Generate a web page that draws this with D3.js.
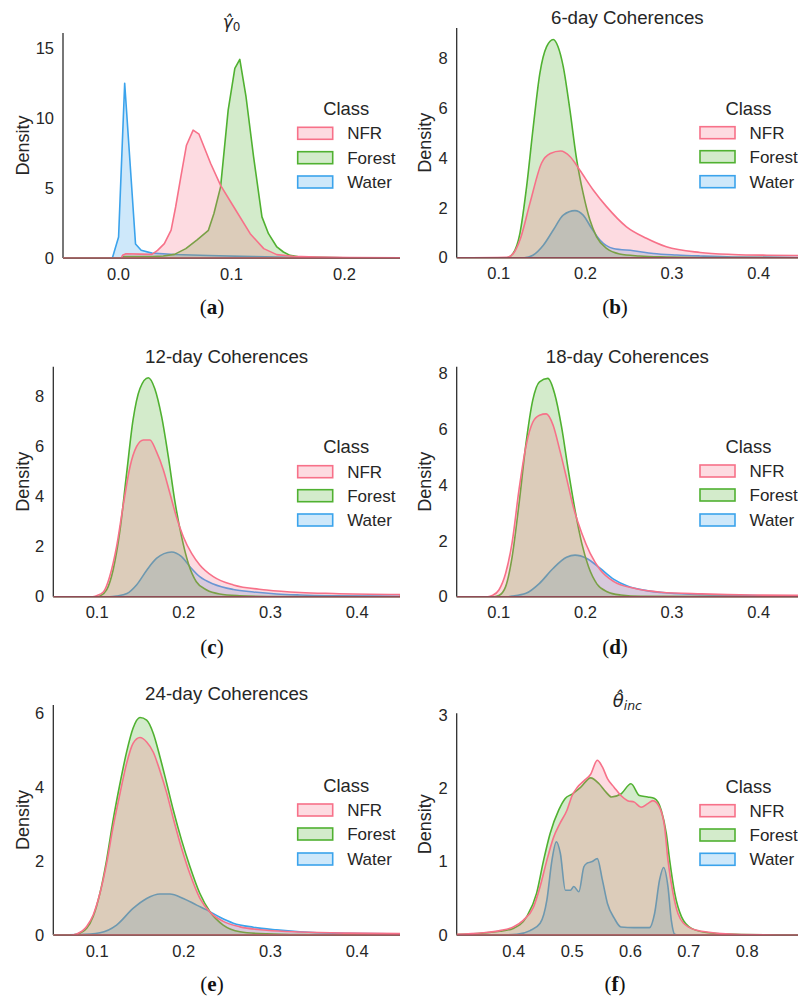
<!DOCTYPE html>
<html>
<head>
<meta charset="utf-8">
<script src="https://cdnjs.cloudflare.com/ajax/libs/d3/7.8.5/d3.min.js"></script>
<style>
  body { margin: 0; background: #fff; }
  svg { display: block; }
  .tick text { font-family: "Liberation Sans", Arial, sans-serif; font-size: 16.5px; fill: #262626; }
</style>
</head>
<body>
<div id="chart"></div>
<script>
// classes and colours (seaborn husl)
const classes = ["NFR", "Forest", "Water"];
const colors = ["#f77189", "#50b131", "#3ba3ec"];

// (a) gamma_0 densities, [x, density]
const gammaNfr = [[-0.049,0],[0.003,0],[0.004,0.2],[0.007,0.3],[0.02,0.28],[0.03,0.26],[0.035,0.55],[0.041,1.03],[0.047,2.0],[0.051,3.65],[0.0556,5.8],[0.0606,8.07],[0.0665,9.15],[0.0717,8.86],[0.082,6.76],[0.0908,5.2],[0.1025,3.65],[0.117,1.74],[0.129,0.67],[0.1405,0.24],[0.155,0.12],[0.176,0.07],[0.205,0.04],[0.25,0.02]];
const gammaForest = [[-0.049,0],[0.003,0],[0.005,0.1],[0.03,0.1],[0.04,0.14],[0.05,0.26],[0.06,0.67],[0.07,1.3],[0.08,1.98],[0.0849,3.18],[0.0908,5.09],[0.0975,10.58],[0.1034,13.57],[0.1078,14.21],[0.1133,11.54],[0.12,7.24],[0.1274,2.94],[0.1332,1.74],[0.1406,0.79],[0.1464,0.43],[0.1523,0.19],[0.161,0.07],[0.2,0.01],[0.25,0]];
const gammaWater = [[-0.049,0],[-0.005,0],[0.0005,1.5],[0.0059,12.5],[0.0155,1.0],[0.0205,0.55],[0.03,0.35],[0.05,0.25],[0.08,0.18],[0.12,0.1],[0.16,0.04],[0.2,0.01],[0.25,0]];

// (b) 6-day coherences
const coh6Nfr = [[0.05,0],[0.11,0.02],[0.118,0.2],[0.125,0.71],[0.1365,2.18],[0.15,3.8],[0.16,4.18],[0.172,4.28],[0.183,4.05],[0.194,3.52],[0.2096,2.72],[0.225,2.05],[0.248,1.24],[0.271,0.78],[0.294,0.44],[0.333,0.21],[0.371,0.13],[0.41,0.1],[0.45,0.09]];
const coh6Forest = [[0.05,0],[0.11,0],[0.117,0.17],[0.125,0.98],[0.1327,2.85],[0.1404,5.26],[0.148,7.4],[0.1558,8.47],[0.1635,8.76],[0.169,8.47],[0.175,7.67],[0.1827,5.93],[0.19,4.05],[0.198,2.58],[0.2058,1.51],[0.2135,0.84],[0.225,0.37],[0.24,0.15],[0.263,0.07],[0.294,0.03],[0.33,0.01],[0.45,0]];
const coh6Water = [[0.05,0],[0.13,0],[0.14,0.1],[0.152,0.5],[0.1635,1.11],[0.175,1.71],[0.1885,1.89],[0.198,1.71],[0.2077,1.18],[0.2173,0.71],[0.2327,0.37],[0.256,0.28],[0.279,0.17],[0.306,0.11],[0.333,0.07],[0.37,0.03],[0.45,0.01]];

// (c) 12-day coherences
const coh12Nfr = [[0.05,0],[0.095,0],[0.1,0.04],[0.108,0.2],[0.115,0.8],[0.123,2.0],[0.131,3.73],[0.1385,5.2],[0.146,6.0],[0.154,6.27],[0.1615,6.27],[0.169,5.8],[0.177,5.07],[0.1846,4.13],[0.192,3.2],[0.2,2.4],[0.2096,1.73],[0.219,1.27],[0.2346,0.8],[0.2577,0.47],[0.296,0.27],[0.335,0.17],[0.373,0.13],[0.45,0.09]];
const coh12Forest = [[0.05,0],[0.1,0],[0.104,0.03],[0.1115,0.27],[0.119,1.07],[0.127,2.67],[0.1346,4.93],[0.142,7.07],[0.15,8.33],[0.1596,8.76],[0.167,8.33],[0.175,7.2],[0.1827,5.6],[0.19,3.87],[0.198,2.4],[0.2058,1.33],[0.215,0.6],[0.227,0.27],[0.242,0.11],[0.265,0.04],[0.296,0.01],[0.45,0]];
const coh12Water = [[0.05,0],[0.115,0],[0.123,0.03],[0.135,0.13],[0.146,0.47],[0.158,1.07],[0.169,1.53],[0.1865,1.79],[0.198,1.6],[0.2077,1.2],[0.219,0.8],[0.2346,0.51],[0.2577,0.29],[0.281,0.19],[0.3077,0.11],[0.3346,0.07],[0.373,0.04],[0.45,0.02]];

// (d) 18-day coherences
const coh18Nfr = [[0.05,0],[0.088,0],[0.093,0.04],[0.1007,0.24],[0.1085,0.84],[0.116,1.95],[0.124,3.85],[0.132,5.4],[0.1398,6.25],[0.1476,6.5],[0.1554,6.55],[0.1632,6.15],[0.171,5.25],[0.1788,4.25],[0.1866,3.22],[0.1964,2.27],[0.2061,1.55],[0.2178,0.96],[0.2335,0.54],[0.2569,0.3],[0.288,0.16],[0.335,0.1],[0.3935,0.06],[0.45,0.05]];
const coh18Forest = [[0.05,0],[0.095,0],[0.1007,0.04],[0.1085,0.36],[0.116,1.43],[0.124,3.34],[0.132,5.49],[0.1398,7.04],[0.1476,7.7],[0.1573,7.82],[0.165,7.28],[0.173,6.09],[0.1808,4.54],[0.1886,3.1],[0.1964,1.91],[0.2042,1.07],[0.214,0.45],[0.2256,0.18],[0.2413,0.06],[0.2647,0.01],[0.45,0]];
const coh18Water = [[0.05,0],[0.11,0],[0.116,0.02],[0.132,0.12],[0.1476,0.48],[0.1632,1.01],[0.1788,1.41],[0.1886,1.49],[0.2022,1.37],[0.2178,1.01],[0.2335,0.62],[0.249,0.38],[0.2725,0.21],[0.296,0.13],[0.335,0.07],[0.3935,0.04],[0.45,0.02]];

// (e) 24-day coherences
const coh24Nfr = [[0.05,0],[0.07,0],[0.077,0.03],[0.0885,0.23],[0.096,0.54],[0.1038,1.13],[0.1115,1.94],[0.119,2.93],[0.127,3.84],[0.1346,4.65],[0.142,5.19],[0.15,5.35],[0.1577,5.23],[0.1654,4.95],[0.173,4.45],[0.1808,3.85],[0.1885,3.15],[0.198,2.35],[0.2077,1.65],[0.219,1.0],[0.2308,0.62],[0.246,0.37],[0.2654,0.22],[0.296,0.13],[0.335,0.08],[0.392,0.05],[0.45,0.04]];
const coh24Forest = [[0.05,0],[0.07,0],[0.077,0.02],[0.0885,0.18],[0.096,0.5],[0.1038,1.13],[0.1115,2.03],[0.119,3.11],[0.127,4.11],[0.1346,4.96],[0.142,5.6],[0.15,5.89],[0.1577,5.82],[0.1654,5.46],[0.173,4.83],[0.1808,4.11],[0.1885,3.38],[0.198,2.57],[0.2077,1.85],[0.219,1.13],[0.2308,0.63],[0.246,0.27],[0.2654,0.09],[0.296,0.03],[0.335,0.01],[0.45,0]];
const coh24Water = [[0.05,0],[0.08,0.01],[0.1038,0.06],[0.123,0.27],[0.142,0.72],[0.1577,0.99],[0.173,1.11],[0.1846,1.11],[0.2,0.99],[0.2154,0.81],[0.2269,0.68],[0.2423,0.48],[0.2577,0.32],[0.2808,0.21],[0.3077,0.14],[0.3346,0.09],[0.373,0.05],[0.45,0.03]];

// (f) theta_inc
const thetaNfr = [[0.302,0.01],[0.348,0.03],[0.377,0.06],[0.4,0.11],[0.417,0.2],[0.4346,0.38],[0.446,0.66],[0.4576,1.02],[0.469,1.33],[0.48,1.52],[0.492,1.7],[0.5009,1.9],[0.5095,2.01],[0.521,2.1],[0.5326,2.19],[0.544,2.38],[0.5527,2.29],[0.5614,2.13],[0.573,2.01],[0.5844,1.9],[0.596,1.83],[0.6075,1.81],[0.619,1.74],[0.6305,1.79],[0.6392,1.83],[0.6507,1.74],[0.6594,1.47],[0.6651,1.02],[0.6738,0.57],[0.6824,0.29],[0.6997,0.11],[0.7228,0.05],[0.78,0.01],[0.89,0]];
const thetaForest = [[0.302,0.005],[0.377,0.05],[0.4,0.09],[0.423,0.25],[0.44,0.57],[0.452,1.02],[0.463,1.38],[0.4778,1.7],[0.489,1.86],[0.5009,1.92],[0.5153,2.01],[0.5326,2.14],[0.547,2.06],[0.5585,1.95],[0.5683,1.88],[0.5844,1.92],[0.6017,2.06],[0.6161,1.9],[0.6305,1.88],[0.6421,1.86],[0.6536,1.7],[0.6623,1.38],[0.668,1.02],[0.6767,0.57],[0.6882,0.25],[0.7055,0.09],[0.7343,0.03],[0.78,0.01],[0.89,0]];
const thetaWater = [[0.302,0],[0.38,0],[0.406,0.01],[0.4288,0.06],[0.446,0.16],[0.4576,0.48],[0.4663,1.02],[0.4738,1.27],[0.4807,1.11],[0.4893,0.61],[0.498,0.61],[0.5037,0.66],[0.5124,0.59],[0.521,0.93],[0.5268,0.98],[0.5354,1.0],[0.544,1.04],[0.5527,0.75],[0.5614,0.43],[0.573,0.23],[0.5844,0.11],[0.6075,0.1],[0.6334,0.1],[0.6421,0.29],[0.6507,0.75],[0.6576,0.92],[0.6651,0.66],[0.6709,0.2],[0.6767,0.01],[0.6824,0],[0.89,0]];

// tick values
const gammaXTicks = [0.0, 0.1, 0.2];
const gammaYTicks = [0, 5, 10, 15];
const cohXTicks = [0.1, 0.2, 0.3, 0.4];
const coh8YTicks = [0, 2, 4, 6, 8];
const coh6YTicks = [0, 2, 4, 6];
const thetaXTicks = [0.4, 0.5, 0.6, 0.7, 0.8];
const thetaYTicks = [0, 1, 2, 3];

const panels = [
  {tag:"a", title:"gamma", series:[gammaNfr, gammaForest, gammaWater], xTicks:gammaXTicks, yTicks:gammaYTicks,
   xDom:[-0.0487, 0.2496], yMax:16.1, left:63, right:400, top:33, bottom:258, curve:d3.curveLinear,
   titleY:28, densX:28.5, legX:297.7, legY:108.3, rows:[133.3,157.7,182], tagX:212, tagY:314},
  {tag:"b", title:"6-day Coherences", series:[coh6Nfr, coh6Forest, coh6Water], xTicks:cohXTicks, yTicks:coh8YTicks,
   xDom:[0.052, 0.446], yMax:9.22, left:456.7, right:798, top:28, bottom:257.7, curve:d3.curveMonotoneX,
   titleY:23.5, densX:431, legX:700, legY:108.3, rows:[132.7,156.7,181.7], tagX:615, tagY:314},
  {tag:"c", title:"12-day Coherences", series:[coh12Nfr, coh12Forest, coh12Water], xTicks:cohXTicks, yTicks:coh8YTicks,
   xDom:[0.05, 0.45], yMax:9.2, left:53.3, right:400, top:366.7, bottom:596.7, curve:d3.curveMonotoneX,
   titleY:362.5, densX:28.5, legX:297.7, legY:446.7, rows:[471.7,495.7,520], tagX:212, tagY:654},
  {tag:"d", title:"18-day Coherences", series:[coh18Nfr, coh18Forest, coh18Water], xTicks:cohXTicks, yTicks:coh8YTicks,
   xDom:[0.052, 0.446], yMax:8.24, left:456.7, right:798, top:366.7, bottom:596.7, curve:d3.curveMonotoneX,
   titleY:362.5, densX:431, legX:700, legY:446.7, rows:[471,495,520], tagX:615, tagY:654},
  {tag:"e", title:"24-day Coherences", series:[coh24Nfr, coh24Forest, coh24Water], xTicks:cohXTicks, yTicks:coh6YTicks,
   xDom:[0.05, 0.45], yMax:6.23, left:53.3, right:400, top:705, bottom:935, curve:d3.curveMonotoneX,
   titleY:699.5, densX:28.5, legX:297.7, legY:785, rows:[810,834,859], tagX:212, tagY:991},
  {tag:"f", title:"theta", series:[thetaNfr, thetaForest, thetaWater], xTicks:thetaXTicks, yTicks:thetaYTicks,
   xDom:[0.303, 0.888], yMax:3.02, left:456.7, right:798, top:713.3, bottom:935, curve:d3.curveMonotoneX,
   titleY:707, densX:431, legX:700, legY:786, rows:[810.7,835,859.3], tagX:615, tagY:991}
];

const W = 798, H = 997;
const font = '"Liberation Sans", Arial, sans-serif';
const ink = "#262626";

const svg = d3.select("#chart").append("svg")
  .attr("width", W).attr("height", H);

panels.forEach((p, pi) => {
  const x = d3.scaleLinear().domain(p.xDom).range([p.left, p.right]);
  const y = d3.scaleLinear().domain([0, p.yMax]).range([p.bottom, p.top]);
  const g = svg.append("g");

  g.append("clipPath").attr("id", "clip" + pi)
    .append("rect")
    .attr("x", p.left).attr("y", p.top - 2)
    .attr("width", p.right - p.left).attr("height", p.bottom - p.top + 4);

  // left spine
  g.append("line")
    .attr("x1", p.left).attr("x2", p.left)
    .attr("y1", p.top).attr("y2", p.bottom)
    .attr("stroke", ink).attr("stroke-width", 1.25);

  const area = d3.area()
    .x(d => x(d[0]))
    .y0(y(0))
    .y1(d => y(d[1]))
    .curve(p.curve);

  // seaborn layers the hue levels in reverse order
  const order = [2, 1, 0];
  const plot = g.append("g").attr("clip-path", "url(#clip" + pi + ")");
  order.forEach(i => {
    plot.append("path")
      .datum(p.series[i])
      .attr("d", area)
      .attr("fill", colors[i])
      .attr("fill-opacity", 0.25)
      .attr("stroke", colors[i])
      .attr("stroke-width", 1.6)
      .attr("stroke-linejoin", "round");
  });

  // bottom spine
  g.append("line")
    .attr("x1", p.left).attr("x2", p.right)
    .attr("y1", p.bottom).attr("y2", p.bottom)
    .attr("stroke", ink).attr("stroke-opacity", 0.5).attr("stroke-width", 1.25);

  // axes
  const xAxis = g.append("g")
    .attr("transform", "translate(0," + p.bottom + ")")
    .call(d3.axisBottom(x).tickValues(p.xTicks).tickFormat(d3.format(".1f")).tickSize(0).tickPadding(10));
  xAxis.select(".domain").remove();

  const yAxis = g.append("g")
    .attr("transform", "translate(" + p.left + ",0)")
    .call(d3.axisLeft(y).tickValues(p.yTicks).tickFormat(d3.format("d")).tickSize(0).tickPadding(9));
  yAxis.select(".domain").remove();

  // y label
  g.append("text")
    .attr("transform", "translate(" + p.densX + "," + ((p.top + p.bottom) / 2) + ") rotate(-90)")
    .attr("text-anchor", "middle")
    .style("font-family", font).style("font-size", "18px").attr("fill", ink)
    .text("Density");

  // title
  const cx = (p.left + p.right) / 2;
  const t = g.append("text")
    .attr("x", cx).attr("y", p.titleY)
    .attr("text-anchor", "middle")
    .attr("fill", ink);
  if (p.title === "gamma") {
    t.style("font-family", '"DejaVu Sans", sans-serif').style("font-size", "17px");
    t.append("tspan").style("font-style", "italic").text("\u03b3\u0302");
    t.append("tspan").attr("dy", 3).style("font-size", "12px").text("0");
  } else if (p.title === "theta") {
    t.style("font-family", '"DejaVu Sans", sans-serif').style("font-size", "18px");
    t.append("tspan").style("font-style", "italic").text("\u03b8\u0302");
    t.append("tspan").attr("dy", 3).style("font-size", "12.5px").style("font-style", "italic").text("inc");
  } else {
    t.style("font-family", font).style("font-size", "18.7px").text(p.title);
  }

  // legend
  const leg = g.append("g");
  leg.append("text")
    .attr("x", p.legX + 48.5).attr("y", p.legY + 6.5)
    .attr("text-anchor", "middle")
    .style("font-family", font).style("font-size", "18.4px").attr("fill", ink)
    .text("Class");
  classes.forEach((c, i) => {
    leg.append("rect")
      .attr("x", p.legX).attr("y", p.rows[i] - 6)
      .attr("width", 35).attr("height", 12)
      .attr("fill", colors[i]).attr("fill-opacity", 0.25)
      .attr("stroke", colors[i]).attr("stroke-width", 1.6);
    leg.append("text")
      .attr("x", p.legX + 49.5).attr("y", p.rows[i] + 6)
      .style("font-family", font).style("font-size", "17px").attr("fill", ink)
      .text(c);
  });

  // sub-figure tag
  const tag = g.append("text")
    .attr("x", p.tagX).attr("y", p.tagY)
    .attr("text-anchor", "middle")
    .style("font-family", '"Liberation Serif", "DejaVu Serif", serif').style("font-size", "21px")
    .attr("fill", "#111");
  tag.append("tspan").text("(");
  tag.append("tspan").style("font-weight", "bold").text(p.tag);
  tag.append("tspan").text(")");
});
</script>
</body>
</html>
